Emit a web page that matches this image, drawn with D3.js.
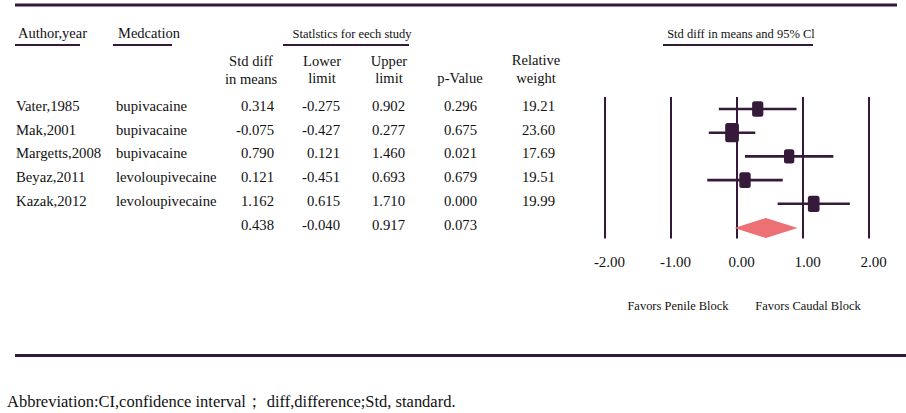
<!DOCTYPE html>
<html><head><meta charset="utf-8">
<script src="https://cdn.jsdelivr.net/npm/d3@7"></script>
<style>
html,body{margin:0;padding:0;background:#fff;}
svg text{font-family:"Liberation Serif","Times New Roman",serif;fill:#111;}
</style></head>
<body><svg id="c" width="906" height="413"></svg>
<script>
// ---- data ----
const authors = ["Vater,1985","Mak,2001","Margetts,2008","Beyaz,2011","Kazak,2012"];
const medications = ["bupivacaine","bupivacaine","bupivacaine","levoloupivecaine","levoloupivecaine"];
const stdDiff = [0.314,-0.075,0.790,0.121,1.162];
const lowerLimit = [-0.275,-0.427,0.121,-0.451,0.615];
const upperLimit = [0.902,0.277,1.460,0.693,1.710];
const pValue = ["0.296","0.675","0.021","0.679","0.000"];
const weight = [19.21,23.60,17.69,19.51,19.99];
const summary = {est:0.438, lo:-0.040, hi:0.917, p:"0.073"};
const ticks = [-2,-1,0,1,2];

const svg = d3.select("#c");
const lineCol = "#34193a";
const boxCol = "#361a3a";

function txt(x, y, s, o={}) {
  const t = svg.append("text")
    .attr("transform", `translate(${x},${y}) scale(${o.sx||1},1)`)
    .attr("text-anchor", o.anchor || "start")
    .style("font-size", (o.size||15) + "px")
    .text(s);
  return t;
}
function hline(x1,x2,y,w){
  svg.append("line").attr("x1",x1).attr("x2",x2).attr("y1",y).attr("y2",y)
    .attr("stroke",lineCol).attr("stroke-width",w);
}

// frame lines
hline(15,897,5,3);
hline(15,906,355.5,3);

// header
txt(18,38,"Author,year",{size:14.5});
hline(15,80,45,2);
txt(118,38,"Medcation",{size:14.5});
hline(113,172,45,2);
txt(352,37.5,"Statlstics for eech study",{size:12.5,anchor:"middle"});
hline(283,409,45,2);
txt(741,37.5,"Std diff in means and 95% Cl",{size:12.5,anchor:"middle"});
hline(663,813,45,2);

const hs = {size:15.5, anchor:"middle", sx:0.94};
txt(251,66,"Std diff",hs); txt(251,84,"in means",hs);
txt(322,66,"Lower",hs); txt(322,83,"limit",hs);
txt(389,66,"Upper",hs); txt(389,83,"limit",hs);
txt(460,83,"p-Value",hs);
txt(536,65,"Relative",hs); txt(536,83,"weight",hs);

// rows
const yRow = d3.scaleLinear().domain([0,5]).range([109,227.5]);
const f3 = d3.format(".3f");
const fmt = v => f3(v).replace("\u2212","-");
const bs = {size:15.5, sx:0.95};
const rs = {size:15.5, sx:0.95, anchor:"end"};
authors.forEach((a,i)=>{
  const yb = yRow(i) + 2;
  txt(16,yb,a,bs);
  txt(116,yb,medications[i],bs);
  txt(274,yb,fmt(stdDiff[i]),rs);
  txt(340,yb,fmt(lowerLimit[i]),rs);
  txt(405,yb,fmt(upperLimit[i]),rs);
  txt(477,yb,pValue[i],rs);
  txt(555,yb,weight[i].toFixed(2),rs);
});
{
  const yb = yRow(5) + 2;
  txt(274,yb,fmt(summary.est),rs);
  txt(340,yb,fmt(summary.lo),rs);
  txt(405,yb,fmt(summary.hi),rs);
  txt(477,yb,summary.p,rs);
}

// forest plot
const x = d3.scaleLinear().domain([-2,2]).range([605,869]);
const g = svg.append("g");
g.selectAll("line.grid").data(ticks).join("line")
  .attr("class","grid")
  .attr("x1",d=>x(d)).attr("x2",d=>x(d))
  .attr("y1",97).attr("y2",238.5)
  .attr("stroke",lineCol).attr("stroke-width",2);

const f2 = d3.format(".2f");
const axis = d3.axisBottom(x).tickValues(ticks).tickFormat(d => f2(d).replace("\u2212","-")).tickSize(0);
const ag = svg.append("g").attr("transform","translate(0,250)").call(axis);
ag.select(".domain").remove();
ag.selectAll("text").style("font-size","15px")
  .attr("font-family","Liberation Serif, serif")
  .attr("fill","#111").attr("dy","0.9em")
  .attr("transform","translate(4,0)");

// CI lines
g.selectAll("line.ci").data(authors).join("line")
  .attr("class","ci")
  .attr("x1",(d,i)=>x(lowerLimit[i])).attr("x2",(d,i)=>x(upperLimit[i]))
  .attr("y1",(d,i)=>yRow(i)).attr("y2",(d,i)=>yRow(i))
  .attr("stroke",boxCol).attr("stroke-width",2.6);

const wScale = d3.scaleLinear().domain([0,24]).range([0,14]);
g.selectAll("rect.box").data(authors).join("rect")
  .attr("class","box")
  .attr("x",(d,i)=>x(stdDiff[i]) - wScale(weight[i])/2)
  .attr("width",(d,i)=>wScale(weight[i]))
  .attr("y",(d,i)=>yRow(i) - wScale(weight[i])*1.4/2)
  .attr("height",(d,i)=>wScale(weight[i])*1.4)
  .attr("rx",2.5)
  .attr("fill",boxCol);

// summary diamond
const yd = yRow(5) + 0.5;
g.append("path")
  .attr("d",`M${x(summary.lo)},${yd} L${x(summary.est)},${yd-10} L${x(summary.hi)},${yd} L${x(summary.est)},${yd+10} Z`)
  .attr("fill","#ec7074");

// favors labels
txt(678,310,"Favors Penile Block",{size:13,anchor:"middle",sx:0.96});
txt(808,310,"Favors Caudal Block",{size:13,anchor:"middle",sx:0.96});

// footnote
txt(7,407,"Abbreviation:CI,confidence interval\uFF1B diff,difference;Std, standard.",{size:17,sx:0.97});
</script></body></html>
